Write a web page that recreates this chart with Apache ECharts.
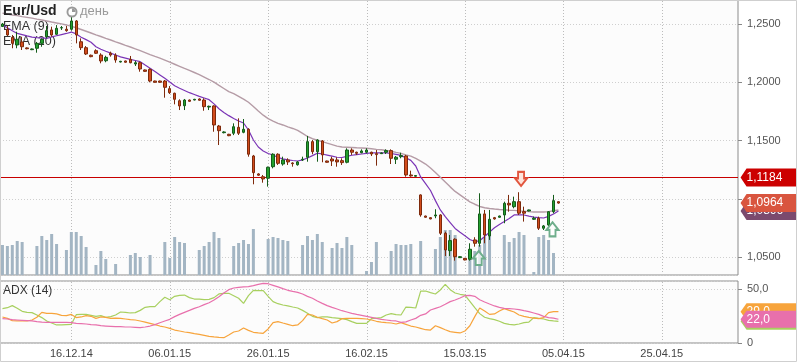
<!DOCTYPE html>
<html><head><meta charset="utf-8">
<script src="https://cdn.jsdelivr.net/npm/echarts@6/dist/echarts.min.js"></script>
<style>html,body{margin:0;padding:0;background:#fff}#c{width:798px;height:363px}</style>
</head><body><div id="c"></div><script>
// ---------- DATA ----------
const slotCount = 150;
const labelSlots = [14, 34, 54, 74, 94, 114, 134];
const tickLabels = ['16.12.14', '06.01.15', '26.01.15', '16.02.15', '15.03.15', '05.04.15', '25.04.15'];

const opens = [1.2479,1.2455,1.2386,1.2320,1.2346,1.2295,1.2280,1.2292,1.2334,1.2391,
1.2449,1.2412,1.2466,1.2455,1.2455,1.2526,1.2348,1.2297,1.2232,1.2271,
1.2234,1.2185,1.2249,1.2232,1.2174,1.2183,1.2197,1.2157,1.2168,1.2106,
1.2111,1.2011,1.2011,1.2011,1.1945,1.1906,1.1842,1.1799,1.1848,1.1848,
1.1857,1.1848,1.1788,1.1797,1.1625,1.1568,1.1554,1.1563,1.1614,1.1571,
1.1597,1.1368,1.1214,1.1190,1.1177,1.1276,1.1383,1.1299,1.1334,1.1308,
1.1293,1.1334,1.1357,1.1491,1.1405,1.1497,1.1325,1.1342,1.1334,1.1328,
1.1314,1.1419,1.1400,1.1396,1.1400,1.1400,1.1388,1.1388,1.1400,1.1414,
1.1340,1.1362,1.1368,1.1205,1.1194,1.1034,1.0853,1.0839,1.0854,1.0862,
1.0705,1.0556,1.0654,1.0496,1.0490,1.0482,1.0648,1.0619,1.0871,1.0682,
1.0839,1.0842,1.0862,1.0962,1.0933,1.0976,1.0891,1.0896,1.0825,1.0834,
1.0748,1.0776,1.0890,1.0976];
const closes = [1.2500,1.2406,1.2334,1.2369,1.2305,1.2288,1.2286,1.2334,1.2369,1.2443,
1.2406,1.2463,1.2469,1.2443,1.2526,1.2406,1.2297,1.2243,1.2220,1.2249,
1.2183,1.2214,1.2234,1.2191,1.2180,1.2172,1.2168,1.2168,1.2114,1.2094,
1.2011,1.2000,1.2000,1.1957,1.1911,1.1854,1.1797,1.1848,1.1837,1.1854,
1.1846,1.1791,1.1794,1.1634,1.1585,1.1574,1.1542,1.1619,1.1563,1.1597,
1.1383,1.1225,1.1203,1.1171,1.1271,1.1383,1.1305,1.1334,1.1317,1.1302,
1.1317,1.1340,1.1491,1.1405,1.1505,1.1377,1.1314,1.1325,1.1317,1.1311,
1.1419,1.1400,1.1391,1.1411,1.1419,1.1385,1.1380,1.1394,1.1414,1.1348,
1.1357,1.1371,1.1205,1.1197,1.1200,1.0862,1.0842,1.0828,1.0862,1.0705,
1.0562,1.0642,1.0504,1.0504,1.0476,1.0568,1.0619,1.0871,1.0690,1.0825,
1.0828,1.0853,1.0962,1.0948,1.0976,1.0877,1.0877,1.0905,1.0834,1.0748,
1.0768,1.0890,1.0985,1.0964];
const lows = [1.2474,1.2397,1.2292,1.2292,1.2277,1.2283,1.2276,1.2254,1.2305,1.2377,
1.2391,1.2406,1.2449,1.2434,1.2443,1.2334,1.2277,1.2234,1.2215,1.2243,
1.2163,1.2172,1.2220,1.2168,1.2170,1.2168,1.2163,1.2140,1.2091,1.2090,
1.2000,1.1997,1.1997,1.1868,1.1900,1.1811,1.1762,1.1762,1.1833,1.1845,
1.1843,1.1756,1.1762,1.1576,1.1462,1.1562,1.1538,1.1547,1.1548,1.1563,
1.1362,1.1125,1.1198,1.1139,1.1105,1.1262,1.1291,1.1285,1.1291,1.1276,
1.1285,1.1325,1.1319,1.1383,1.1319,1.1314,1.1310,1.1282,1.1276,1.1291,
1.1305,1.1377,1.1377,1.1391,1.1391,1.1368,1.1285,1.1385,1.1385,1.1299,
1.1299,1.1348,1.1190,1.1190,1.1190,1.0847,1.0839,1.0825,1.0834,1.0690,
1.0510,1.0510,1.0470,1.0493,1.0473,1.0470,1.0590,1.0590,1.0619,1.0648,
1.0822,1.0839,1.0791,1.0890,1.0919,1.0862,1.0805,1.0893,1.0819,1.0733,
1.0733,1.0768,1.0876,1.0959];
const highs = [1.2509,1.2483,1.2406,1.2434,1.2391,1.2300,1.2290,1.2346,1.2377,1.2483,
1.2477,1.2491,1.2483,1.2483,1.2563,1.2534,1.2377,1.2311,1.2238,1.2283,
1.2249,1.2228,1.2263,1.2249,1.2184,1.2186,1.2226,1.2183,1.2177,1.2110,
1.2120,1.2014,1.2014,1.2020,1.1968,1.1911,1.1854,1.1857,1.1852,1.1858,
1.1862,1.1863,1.1800,1.1803,1.1634,1.1580,1.1558,1.1648,1.1691,1.1685,
1.1606,1.1377,1.1220,1.1205,1.1277,1.1391,1.1391,1.1362,1.1348,1.1314,
1.1325,1.1362,1.1540,1.1505,1.1511,1.1505,1.1328,1.1362,1.1357,1.1348,
1.1434,1.1434,1.1405,1.1425,1.1434,1.1405,1.1419,1.1398,1.1425,1.1425,
1.1368,1.1396,1.1377,1.1242,1.1203,1.1039,1.0856,1.0842,1.0911,1.0868,
1.0719,1.0690,1.0662,1.0508,1.0493,1.0619,1.0671,1.1048,1.0905,1.0905,
1.0845,1.0856,1.0976,1.1034,1.1019,1.1057,1.0933,1.0908,1.0848,1.0848,
1.0776,1.0896,1.1034,1.0979];

const volumes = [30,29,30,34,33,null,null,29,39,35,
41,31,null,25,43,43,39,28,null,10,
24,16,null,11,null,null,20,22,18,null,
20,null,null,33,17,38,33,32,null,null,
25,29,33,43,37,null,null,29,32,35,
31,46,null,null,36,38,37,35,34,null,
null,30,39,35,41,33,null,27,32,27,
38,30,null,null,4,13,33,null,null,24,
31,30,30,31,null,34,null,null,26,38,
45,45,40,null,null,18,24,30,38,42,
null,null,40,33,37,43,40,null,3,38,
40,35,22,null];

const ema9 = [1.2493,1.2468,1.2443,1.2419,1.2409,1.2398,1.2388,1.2384,1.2381,1.2377,
1.2389,1.2399,1.2409,1.2419,1.2431,1.2415,1.2387,1.2366,1.2344,1.2305,
1.2284,1.2266,1.2250,1.2234,1.2218,1.2208,1.2197,1.2187,1.2177,1.2148,
1.2120,1.2092,1.2063,1.2034,1.2003,1.1971,1.1949,1.1930,1.1911,1.1895,
1.1879,1.1865,1.1851,1.1815,1.1773,1.1741,1.1714,1.1690,1.1668,1.1651,
1.1591,1.1505,1.1445,1.1411,1.1389,1.1376,1.1355,1.1343,1.1335,1.1329,
1.1325,1.1335,1.1351,1.1371,1.1392,1.1385,1.1376,1.1367,1.1357,1.1355,
1.1364,1.1374,1.1380,1.1385,1.1390,1.1394,1.1394,1.1394,1.1394,1.1389,
1.1382,1.1373,1.1352,1.1330,1.1282,1.1188,1.1130,1.1072,1.0985,1.0905,
1.0847,1.0797,1.0746,1.0713,1.0683,1.0651,1.0634,1.0641,1.0677,1.0715,
1.0752,1.0780,1.0805,1.0831,1.0862,1.0862,1.0862,1.0852,1.0844,1.0839,
1.0836,1.0850,1.0871,1.0896];
const ema20 = [1.2593,1.2586,1.2577,1.2572,1.2563,1.2557,1.2551,1.2542,1.2534,1.2526,
1.2517,1.2509,1.2501,1.2492,1.2480,1.2468,1.2453,1.2438,1.2423,1.2407,
1.2393,1.2377,1.2363,1.2347,1.2333,1.2317,1.2303,1.2287,1.2271,1.2255,
1.2238,1.2222,1.2207,1.2190,1.2173,1.2155,1.2137,1.2119,1.2102,1.2084,
1.2066,1.2045,1.2024,1.2002,1.1974,1.1947,1.1920,1.1903,1.1880,1.1856,
1.1829,1.1793,1.1754,1.1718,1.1688,1.1667,1.1647,1.1634,1.1617,1.1604,
1.1588,1.1562,1.1535,1.1516,1.1503,1.1491,1.1478,1.1466,1.1453,1.1445,
1.1443,1.1441,1.1438,1.1437,1.1434,1.1430,1.1425,1.1421,1.1415,1.1409,
1.1399,1.1390,1.1377,1.1367,1.1347,1.1323,1.1299,1.1265,1.1226,1.1186,
1.1145,1.1103,1.1064,1.1034,1.1004,1.0974,1.0954,1.0935,1.0924,1.0918,
1.0913,1.0909,1.0907,1.0903,1.0901,1.0897,1.0895,1.0891,1.0888,1.0888,
1.0888,1.0891,1.0898,1.0905];

const adxGreen = [31.8,32.7,34.6,32.1,29.3,28.4,28.1,25.9,23.5,20.4,
18.5,16.7,16.7,17.0,17.3,26.2,26.5,26.5,25.6,24.7,
25.3,23.8,24.4,25.9,28.7,28.4,27.8,28.1,30.2,33.0,
33.6,33.6,38.3,42.3,40.1,43.2,44.1,44.4,42.0,40.7,
40.7,40.1,40.4,42.0,45.4,46.0,46.0,43.8,41.4,36.7,
43.8,48.8,48.5,48.5,43.2,38.3,36.4,35.2,34.3,33.3,
32.4,30.2,27.5,24.7,23.5,24.1,24.1,23.5,23.1,22.5,
21.6,19.8,18.2,18.2,18.2,22.5,23.1,23.5,25.9,27.2,
26.2,25.9,33.3,33.0,32.4,48.1,48.1,46.6,45.4,49.1,
54.3,49.4,46.3,45.1,44.4,38.6,32.7,27.2,23.8,22.5,
21.6,20.1,18.2,17.3,16.7,17.6,18.8,19.4,23.5,22.8,
22.2,21.0,20.4,20.1];
const adxOrange = [24.1,22.8,20.7,20.4,20.4,20.4,21.3,23.8,28.4,27.5,
27.5,26.9,25.6,25.3,26.5,23.5,24.1,25.3,24.7,22.8,
24.1,23.8,22.8,23.1,22.8,22.2,21.6,21.3,20.4,19.4,
18.2,17.0,15.7,14.8,13.6,12.0,11.1,10.2,9.6,8.6,
8.0,7.1,6.2,5.6,5.2,4.9,7.4,10.2,11.1,13.9,
11.7,9.9,9.3,9.0,13.0,18.8,19.8,18.5,17.3,16.0,
16.7,20.7,26.5,25.9,23.8,22.5,21.3,18.5,19.8,22.5,
22.8,22.8,22.8,22.5,22.2,21.3,20.1,19.4,18.8,18.5,
17.6,18.8,17.3,15.7,14.8,13.6,12.3,12.0,16.0,14.2,
12.3,10.5,9.9,9.3,11.1,16.0,24.4,32.4,29.6,26.5,
26.9,29.6,31.8,30.2,28.7,25.9,24.7,23.8,23.1,22.5,
23.5,28.1,29.0,29.0];
const adxPink = [22.5,22.2,21.6,21.3,21.0,20.7,20.4,19.8,19.4,19.1,
19.1,19.1,19.1,19.1,18.8,18.2,17.9,17.6,17.0,16.7,
16.0,15.7,15.4,15.1,15.1,14.8,14.8,14.5,14.2,14.8,
15.7,17.0,18.8,20.4,21.9,24.4,26.5,28.4,30.2,32.1,
33.6,35.5,37.3,39.8,42.9,46.3,49.4,50.9,51.5,51.9,
52.2,53.1,54.3,55.2,54.9,53.4,51.9,50.3,48.8,47.8,
46.9,45.4,43.2,41.4,38.9,36.7,34.6,33.0,31.5,29.9,
28.7,27.5,26.5,25.6,24.7,23.8,22.8,21.9,21.3,20.7,
20.4,19.1,19.6,21.3,22.8,25.6,26.9,30.6,32.1,33.6,
35.8,38.3,39.8,41.7,43.8,44.1,43.2,40.1,38.0,36.1,
34.3,33.0,32.1,31.8,31.5,30.9,29.9,29.0,27.8,26.5,
24.7,23.5,23.1,22.0];

const levelPrice = 1.1184;
const signalsDown = [[105, 1.1171]];
const signalsUp = [[97, 1.0493], [112, 1.0739]];

// ---------- BUILD ----------
const categories = [];
for (let i = 0; i < slotCount; i++) {
  const k = labelSlots.indexOf(i);
  categories.push(k >= 0 ? tickLabels[k] : 's' + i);
}
const candles = opens.map((o, i) => [o, closes[i], lows[i], highs[i]]);
const FONT = '"Liberation Sans", Arial, sans-serif';
const fmtPrice = v => v.toFixed(4).replace('.', ',');
const fmtAdx = v => v === 0 ? '0' : v.toFixed(1).replace('.', ',');
const lastSlot = slotCount - 1;
const volMax = 275, adxMax = 57.4;
const tagPath = 'path://M0,9 L6,0 L56,0 L56,18 L6,18 Z';
const downPath = 'path://M3,0 L9,0 L9,6 L12,6 L6,13 L0,6 L3,6 Z';
const upPath = 'path://M6,0 L12,7 L9,7 L9,13 L3,13 L3,7 L0,7 Z';

function tag(x, y, color, text, h) {
  return {
    coord: [x, y], symbol: tagPath, symbolSize: [56, h || 18], symbolOffset: [33, 0],
    itemStyle: { color: color },
    label: { show: true, position: 'insideLeft', distance: 6, formatter: text, color: '#fff', fontSize: 12, fontFamily: FONT }
  };
}

const chart = echarts.init(document.getElementById('c'));
const baseGraphic = [
  { type: 'text', left: 3, top: 4, z: 10, style: { text: 'Eur/Usd', font: 'bold 14px "Liberation Sans", Arial', fill: '#222' } },
  { type: 'circle', z: 10, shape: { cx: 72, cy: 12, r: 5.5 }, style: { fill: '#9a9a9a' } },
  { type: 'circle', z: 11, shape: { cx: 72, cy: 12, r: 3.6 }, style: { fill: '#ffffff' } },
  { type: 'sector', z: 12, shape: { cx: 72, cy: 12, r: 3.6, r0: 0, startAngle: -Math.PI / 2, endAngle: 0 }, style: { fill: '#9a9a9a' } },
  { type: 'text', left: 80, top: 5, z: 10, style: { text: 'день', font: '13px "Liberation Sans", Arial', fill: '#9a9a9a' } },
  { type: 'text', left: 3, top: 20, z: 1, style: { text: 'EMA (9)', font: '12.5px "Liberation Sans", Arial', fill: '#333' } },
  { type: 'text', left: 3, top: 35, z: 1, style: { text: 'EMA (20)', font: '12.5px "Liberation Sans", Arial', fill: '#333' } },
  { type: 'text', left: 3, top: 285, z: 10, style: { text: 'ADX (14)', font: '12px "Liberation Sans", Arial', fill: '#333' } },
  { type: 'rect', z: 20, silent: true, shape: { x: 0.5, y: 0.5, width: 796, height: 361 }, style: { fill: 'none', stroke: '#cfcfcf', lineWidth: 1 } }
];
chart.setOption({
  animation: false,
  backgroundColor: '#ffffff',
  textStyle: { fontFamily: FONT },
  grid: [
    { left: 0, right: 60, top: 0, height: 275, show: true, backgroundColor: '#fcfcfc', borderColor: '#8c8c8c', borderWidth: 1 },
    { left: 0, right: 60, top: 281, height: 62, show: true, backgroundColor: '#fcfcfc', borderColor: '#8c8c8c', borderWidth: 1 }
  ],
  xAxis: [
    { type: 'category', gridIndex: 0, data: categories, boundaryGap: true,
      axisLine: { show: false }, axisTick: { show: false }, axisLabel: { show: false }, splitLine: { show: false } },
    { type: 'category', gridIndex: 1, data: categories, boundaryGap: true,
      axisLine: { show: false }, axisTick: { show: false }, splitLine: { show: false },
      axisLabel: { show: true, interval: (i) => labelSlots.indexOf(i) >= 0, color: '#444', fontSize: 11, margin: 5, fontFamily: FONT } }
  ],
  yAxis: [
    { type: 'value', gridIndex: 0, position: 'right', min: 1.0347, max: 1.2706, splitNumber: 5, scale: true,
      axisLine: { show: false }, axisTick: { show: true, length: 4, lineStyle: { color: '#888' } },
      axisLabel: { color: '#555', fontSize: 11, margin: 9, showMinLabel: false, showMaxLabel: false, formatter: fmtPrice, fontFamily: FONT },
      splitLine: { show: true, lineStyle: { color: '#cfcfcf', type: [1, 2] } } },
    { type: 'value', gridIndex: 0, min: 0, max: volMax, show: false, splitLine: { show: false } },
    { type: 'value', gridIndex: 1, position: 'right', min: 0, max: adxMax, interval: 50,
      axisLine: { show: false }, axisTick: { show: true, length: 4, lineStyle: { color: '#888' } },
      axisLabel: { color: '#555', fontSize: 11, margin: 9, showMaxLabel: false, formatter: fmtAdx, fontFamily: FONT },
      splitLine: { show: true, lineStyle: { color: '#cfcfcf', type: [1, 2] } } }
  ],
  graphic: baseGraphic,
  series: [
    { type: 'bar', name: 'Volume', xAxisIndex: 0, yAxisIndex: 1, data: volumes, barWidth: 3, z: 1,
      itemStyle: { color: '#a3b5c3' }, silent: true },
    { type: 'line', name: 'EMA (20)', xAxisIndex: 0, yAxisIndex: 0, data: ema20, showSymbol: false, z: 2,
      lineStyle: { color: '#b59ca6', width: 1.4 } },
    { type: 'line', name: 'EMA (9)', xAxisIndex: 0, yAxisIndex: 0, data: ema9, showSymbol: false, z: 2,
      lineStyle: { color: '#7b35b6', width: 1.2 },
      markPoint: { z: 6, data: [tag(lastSlot, ema9[ema9.length - 1], '#7b4a6e', fmtPrice(ema9[ema9.length - 1]))] } },
    { type: 'candlestick', name: 'Eur/Usd', xAxisIndex: 0, yAxisIndex: 0, data: candles, barWidth: 3, z: 3,
      itemStyle: { color: '#22a02e', color0: '#d24c1c', borderColor: '#145c1a', borderColor0: '#7e2a0c', borderWidth: 1 },
      markPoint: { z: 7, data: [
        tag(lastSlot, levelPrice, '#cc0000', fmtPrice(levelPrice)),
        tag(lastSlot, closes[closes.length - 1], '#d9553f', fmtPrice(closes[closes.length - 1])),
        ...signalsDown.map(s => ({ coord: s, symbol: downPath, symbolSize: [12, 14], symbolOffset: [2, 0],
          itemStyle: { color: '#fde4dc', borderColor: '#e2563e', borderWidth: 2 }, label: { show: false } })),
        ...signalsUp.map(s => ({ coord: s, symbol: upPath, symbolSize: [12, 14], symbolOffset: [-1, 0],
          itemStyle: { color: 'rgba(255,255,255,0.7)', borderColor: '#6fae8c', borderWidth: 2 }, label: { show: false } }))
      ] } },
    { type: 'line', name: '+DI', xAxisIndex: 1, yAxisIndex: 2, data: adxGreen, showSymbol: false, z: 2,
      lineStyle: { color: '#a8d060', width: 1.2 },
      markPoint: { z: 6, data: [tag(lastSlot, adxGreen[adxGreen.length - 1], '#a8d060', fmtAdx(adxGreen[adxGreen.length - 1]), 17)] } },
    { type: 'line', name: '-DI', xAxisIndex: 1, yAxisIndex: 2, data: adxOrange, showSymbol: false, z: 2,
      lineStyle: { color: '#f7a43c', width: 1.2 },
      markPoint: { z: 7, data: [tag(lastSlot, adxOrange[adxOrange.length - 1], '#f7a43c', fmtAdx(adxOrange[adxOrange.length - 1]), 17)] } },
    { type: 'line', name: 'ADX (14)', xAxisIndex: 1, yAxisIndex: 2, data: adxPink, showSymbol: false, z: 2,
      lineStyle: { color: '#e870ac', width: 1.2 },
      markPoint: { z: 8, data: [tag(lastSlot, adxPink[adxPink.length - 1], '#e870ac', fmtAdx(adxPink[adxPink.length - 1]), 17)] } }
  ]
});

// grid lines at labelled dates and the 1,1184 level line, placed through the chart's own scales
const mainTop = chart.convertToPixel({ yAxisIndex: 1 }, volMax);
const mainBot = chart.convertToPixel({ yAxisIndex: 1 }, 0);
const adxTop = chart.convertToPixel({ yAxisIndex: 2 }, adxMax);
const adxBot = chart.convertToPixel({ yAxisIndex: 2 }, 0);
const x0 = chart.convertToPixel({ xAxisIndex: 0 }, categories[0]);
const x1 = chart.convertToPixel({ xAxisIndex: 0 }, categories[1]);
const leftX = x0 - (x1 - x0) / 2;
const rightX = chart.convertToPixel({ xAxisIndex: 0 }, categories[lastSlot]) + (x1 - x0) / 2;
const extra = [];
labelSlots.forEach(s => {
  const x = Math.round(chart.convertToPixel({ xAxisIndex: 0 }, categories[s])) + 0.5;
  [[mainTop, mainBot], [adxTop, adxBot]].forEach(([t, b]) => {
    extra.push({ type: 'line', z: 1, silent: true, shape: { x1: x, y1: t + 1, x2: x, y2: b - 1 },
      style: { stroke: '#bcbcbc', lineWidth: 1, lineDash: [1, 2] } });
  });
});
const ly = Math.round(chart.convertToPixel({ yAxisIndex: 0 }, levelPrice)) + 0.5;
extra.push({ type: 'line', z: 1, silent: true, shape: { x1: leftX, y1: ly, x2: rightX, y2: ly },
  style: { stroke: '#c80000', lineWidth: 1 } });
chart.setOption({ graphic: baseGraphic.concat(extra) });
</script></body></html>
